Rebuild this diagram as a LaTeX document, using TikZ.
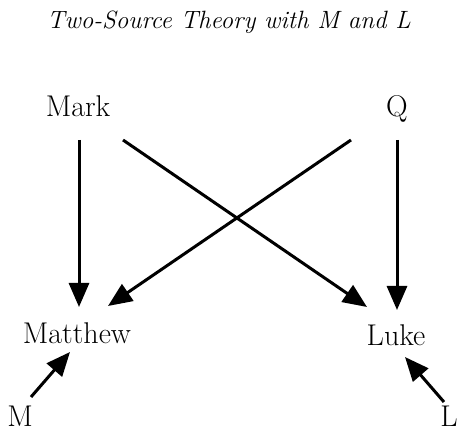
\documentclass[tikz,border=0pt]{standalone}
\usepackage{fontspec}
\usetikzlibrary{arrows.meta}
\begin{document}
\begin{tikzpicture}[x=1pt,y=1pt,
  lbl/.style={anchor=base,inner sep=0pt,font=\fontsize{30}{32}\selectfont},
  ttl/.style={anchor=base,inner sep=0pt,font=\fontsize{25}{28}\selectfont\itshape},
  arr/.style={line width=3pt,-{Triangle[length=24pt,width=20pt]}}]
\useasboundingbox (0,0) rectangle (459,433);
\node[ttl] (title) at (229,404) {Two-Source Theory with M and L};
\node[lbl] (mark) at (78,316) {Mark};
\node[lbl] (q) at (397,316) {Q};
\node[lbl] (matthew) at (77,89) {Matthew};
\node[lbl] (luke) at (396,87) {Luke};
\node[lbl] (m) at (20,6) {M};
\node[lbl] (l) at (449,6) {L};
\draw[arr] ([shift={(1,-23)}]mark.base) -- ([shift={(2,37)}]matthew.base);
\draw[arr] ([shift={(45,-23)}]mark.base) -- ([shift={(-29,39)}]luke.base);
\draw[arr] ([shift={(-46,-23)}]q.base) -- ([shift={(31,38)}]matthew.base);
\draw[arr] ([shift={(0,-23)}]q.base) -- ([shift={(1,36)}]luke.base);
\draw[arr] ([shift={(11,30)}]m.base) -- ([shift={(-7,-8)}]matthew.base);
\draw[arr] ([shift={(-5,25)}]l.base) -- ([shift={(9,-11)}]luke.base);
\end{tikzpicture}
\end{document}
